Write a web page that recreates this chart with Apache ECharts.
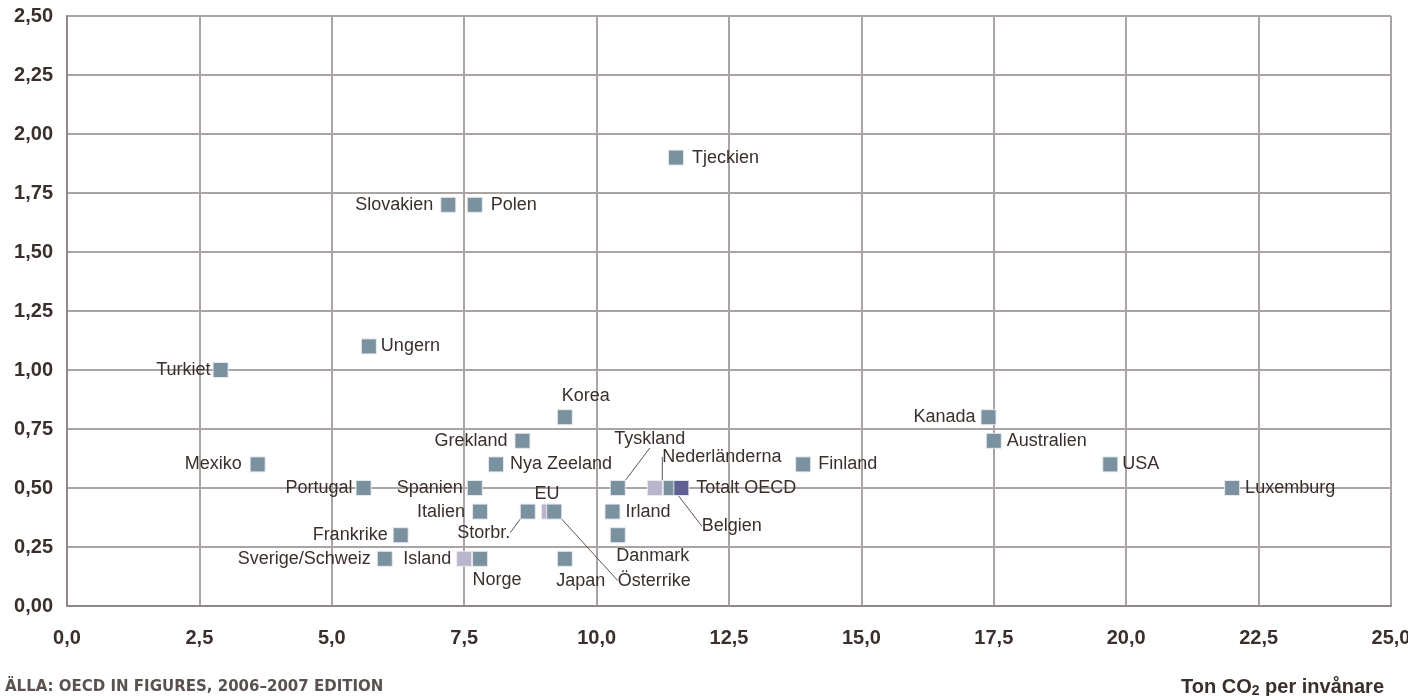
<!DOCTYPE html>
<html>
<head>
<meta charset="utf-8">
<script src="https://cdn.jsdelivr.net/npm/echarts@6/dist/echarts.min.js"></script>
<style>
html,body{margin:0;padding:0;background:#fff;}
#chart{width:1408px;height:696px;}
</style>
</head>
<body>
<div id="chart"></div>
<script>
// ---- data ----
const countries = ['Tjeckien','Slovakien','Polen','Ungern','Turkiet','Korea','Kanada','Australien','Grekland','Mexiko','Nya Zeeland','Finland','USA','Portugal','Spanien','Tyskland','Nederländerna','Belgien','Totalt OECD','Luxemburg','Italien','Storbr.','EU','Österrike','Irland','Frankrike','Danmark','Sverige/Schweiz','Island','Norge','Japan'];
const co2PerCapita = [11.5,7.2,7.7,5.7,2.9,9.4,17.4,17.5,8.6,3.6,8.1,13.9,19.7,5.6,7.7,10.4,11.1,11.4,11.6,22.0,7.8,8.7,9.1,9.2,10.3,6.3,10.4,6.0,7.5,7.8,9.4];
const co2Intensity = [1.90,1.70,1.70,1.10,1.00,0.80,0.80,0.70,0.70,0.60,0.60,0.60,0.60,0.50,0.50,0.50,0.50,0.50,0.50,0.50,0.40,0.40,0.40,0.40,0.40,0.30,0.30,0.20,0.20,0.20,0.20];
const lightGroup = ['Nederländerna','EU','Island'];
const totalGroup = ['Totalt OECD'];
const xTicks = [0,2.5,5,7.5,10,12.5,15,17.5,20,22.5,25];
const yTicks = [0,0.25,0.5,0.75,1,1.25,1.5,1.75,2,2.25,2.5];
const sourceText = 'ÄLLA: OECD IN FIGURES, 2006–2007 EDITION';
const xAxisTitle = 'Ton CO{sub|2} per invånare';

// ---- label placement (style only) ----
const place = {
  'Tjeckien':{pos:'right',dist:8},
  'Slovakien':{pos:'left',dist:7},
  'Polen':{pos:'right',dist:8},
  'Ungern':{pos:'right',dist:4},
  'Turkiet':{pos:'left',dist:2},
  'Korea':{pos:'inside',dx:21,dy:-21},
  'Kanada':{pos:'left',dist:5},
  'Australien':{pos:'right',dist:5},
  'Grekland':{pos:'left',dist:7},
  'Mexiko':{pos:'left',dist:8},
  'Nya Zeeland':{pos:'right',dist:6},
  'Finland':{pos:'right',dist:7},
  'USA':{pos:'right',dist:4},
  'Portugal':{pos:'left',dist:3},
  'Spanien':{pos:'left',dist:4,oy:-6},
  'Tyskland':{pos:'inside',dx:32,dy:-49,line:true},
  'Nederländerna':{pos:'inside',dx:67,dy:-31,line:true},
  'Belgien':{pos:'inside',dx:61,dy:38,line:true},
  'Totalt OECD':{pos:'right',dist:7},
  'Luxemburg':{pos:'right',dist:5},
  'Italien':{pos:'left',dist:7},
  'Storbr.':{pos:'inside',dx:-44,dy:21,line:true},
  'EU':{pos:'inside',dx:-2,dy:-18},
  'Österrike':{pos:'inside',dx:100,dy:69,line:true},
  'Irland':{pos:'right',dist:5},
  'Frankrike':{pos:'left',dist:5,oy:-3},
  'Danmark':{pos:'inside',dx:35,dy:21},
  'Sverige/Schweiz':{pos:'left',dist:6},
  'Island':{pos:'left',dist:5},
  'Norge':{pos:'inside',dx:17,dy:21},
  'Japan':{pos:'inside',dx:16,dy:22}
};

const textColor = '#3a2f2c';
function groupOf(c){
  if (lightGroup.indexOf(c) >= 0) return 'light';
  if (totalGroup.indexOf(c) >= 0) return 'total';
  return 'main';
}
function buildData(g){
  const out = [];
  countries.forEach(function(c,i){
    if (groupOf(c) !== g) return;
    const p = place[c] || {pos:'right',dist:5};
    const lab = {show:true, position:p.pos};
    if (p.dist != null) lab.distance = p.dist;
    if (p.oy) lab.offset = [0,p.oy];
    out.push({name:c, value:[co2PerCapita[i], co2Intensity[i]], label:lab, labelLine:{show:!!p.line}});
  });
  return out;
}
function mkSeries(g, color, z){
  return {
    type:'scatter', name:g, z:z,
    symbol:'rect', symbolSize:15,
    itemStyle:{color:color, borderColor:'rgba(235,235,240,0.9)', borderWidth:1, opacity:1},
    label:{show:true, formatter:'{b}', color:textColor, fontSize:18, fontFamily:'Liberation Sans, Arial, sans-serif'},
    labelLine:{lineStyle:{color:'#5e5450', width:1}},
    labelLayout:function(params){
      const p = place[params.text];
      if (p && p.dx != null) return {dx:p.dx, dy:p.dy};
      return {};
    },
    emphasis:{disabled:true},
    data:buildData(g)
  };
}

const chart = echarts.init(document.getElementById('chart'), null, {renderer:'canvas'});
chart.setOption({
  animation:false,
  backgroundColor:'#ffffff',
  grid:{left:67, right:17, top:16, bottom:90, containLabel:false, outerBoundsMode:'none'},
  title:[
    {text:sourceText, left:0, top:675, textStyle:{fontSize:15, fontWeight:'bold', color:'#5a5250', fontFamily:'DejaVu Sans, sans-serif'}},
    {text:xAxisTitle, right:19, top:671, textStyle:{fontSize:20, fontWeight:'bold', color:textColor, fontFamily:'Liberation Sans, Arial, sans-serif',
      rich:{sub:{fontSize:14, fontWeight:'bold', verticalAlign:'bottom', padding:[8,0,0,0], color:textColor, fontFamily:'Liberation Sans, Arial, sans-serif'}}}}
  ],
  xAxis:{
    type:'value', min:xTicks[0], max:xTicks[xTicks.length-1], interval:2.5,
    axisLine:{show:true, lineStyle:{color:'#8f8785', width:2}},
    axisTick:{show:false},
    splitLine:{show:true, lineStyle:{color:'#aaa4a2', width:2}},
    axisLabel:{margin:22, fontSize:20, fontWeight:'bold', color:textColor, fontFamily:'Liberation Sans, Arial, sans-serif',
      formatter:function(v){return v.toFixed(1).replace('.',',');}}
  },
  yAxis:{
    type:'value', min:yTicks[0], max:yTicks[yTicks.length-1], interval:0.25,
    axisLine:{show:true, lineStyle:{color:'#8f8785', width:2}},
    axisTick:{show:false},
    splitLine:{show:true, lineStyle:{color:'#aaa4a2', width:2}},
    axisLabel:{margin:14, fontSize:20, fontWeight:'bold', color:textColor, fontFamily:'Liberation Sans, Arial, sans-serif',
      formatter:function(v){return v.toFixed(2).replace('.',',');}}
  },
  series:[
    mkSeries('light','#bab5cd',3),
    mkSeries('main','#7a919f',4),
    mkSeries('total','#5f6192',5)
  ]
});
</script>
</body>
</html>
